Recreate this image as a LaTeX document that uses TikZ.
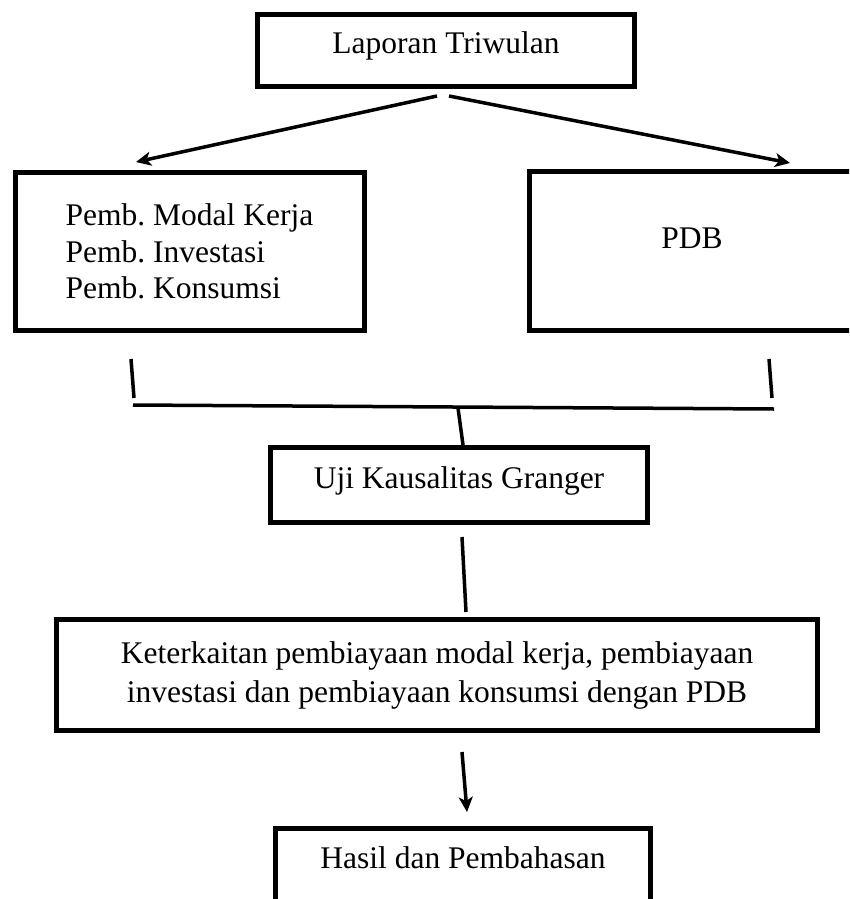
\documentclass[tikz,border=0pt]{standalone}
\usepackage{fontspec}
\setmainfont{Liberation Serif}
\usetikzlibrary{arrows.meta}
\frenchspacing
\tikzset{
  kotak/.style={draw,line width=5pt,inner sep=0pt,align=center,
    font=\fontsize{31.5}{36.5}\selectfont},
  garis/.style={line width=3.5pt},
  panah/.style={garis,-{Stealth[length=15pt,width=14pt,inset=4pt]}}
}
\begin{document}
\begin{tikzpicture}[x=1pt,y=-1pt]
\clip (0,0) rectangle (849,899);
\node[kotak,minimum width=377pt,text height=38.5pt,text depth=33.5pt,
  anchor=base] (lap) at (446,53) {Laporan Triwulan};
\node[kotak,align=left,minimum width=349pt,minimum height=158pt]
  (kiri) at (189.5,251.5) {Pemb. Modal Kerja\\Pemb. Investasi\\Pemb. Konsumsi};
\node[kotak,minimum width=325pt,text height=76.5pt,text depth=82.5pt,
  anchor=base] (pdb) at (692,248) {PDB};
\node[kotak,minimum width=377pt,text height=40.5pt,text depth=34.5pt,
  anchor=base] (uji) at (459,488) {Uji Kausalitas Granger};
\node[kotak,font=\fontsize{31.5}{39}\selectfont,minimum width=761pt,
  minimum height=111pt] (ket) at (437,675)
  {Keterkaitan pembiayaan modal kerja, pembiayaan\\
   investasi dan pembiayaan konsumsi dengan PDB};
\node[kotak,minimum width=375pt,text height=39.5pt,text depth=40pt,
  anchor=base] (hasil) at (463,868) {Hasil dan Pembahasan};
% panah dari laporan
\draw[panah] ([xshift=-9pt,yshift=-7pt]lap.south) --
  ([xshift=-53.5pt,yshift=8pt]kiri.north);
\draw[panah] ([xshift=3pt,yshift=-7pt]lap.south) --
  ([xshift=98pt,yshift=6pt]pdb.north);
% garis penghubung
\draw[garis] ([xshift=-58.5pt,yshift=-26pt]kiri.south) --
  ([xshift=-55.5pt,yshift=-65pt]kiri.south);
\draw[garis] ([xshift=77pt,yshift=-26pt]pdb.south) --
  ([xshift=80pt,yshift=-65pt]pdb.south);
\coordinate (kiriBawah) at (133,405);
\coordinate (kananBawah) at (774,409);
\coordinate (temu) at (458,408);
\draw[garis] (kiriBawah) -- (kananBawah);
\draw[garis] (temu) -- ([xshift=4pt]uji.north);
\draw[garis] ([xshift=3pt,yshift=-12pt]uji.south) --
  ([xshift=29pt,yshift=5pt]ket.north);
\draw[panah] ([xshift=25pt,yshift=-19pt]ket.south) --
  ([xshift=4pt,yshift=14pt]hasil.north);
\end{tikzpicture}
\end{document}
